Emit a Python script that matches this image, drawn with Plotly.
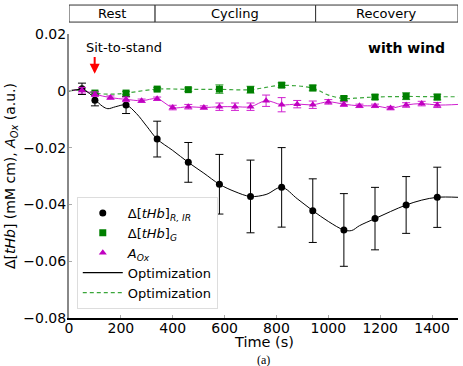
import plotly.graph_objects as go

# black: delta tHb R,IR
t_k = [50, 100, 220, 340, 460, 580, 700, 820, 940, 1060, 1180, 1300, 1420]
y_k = [0.0007, -0.0033, -0.005, -0.017, -0.0252, -0.0329, -0.0372, -0.034, -0.0422, -0.049, -0.045, -0.0402, -0.0375]
e_k = [0.002, 0.002, 0.003, 0.0063, 0.007, 0.0105, 0.0128, 0.014, 0.0112, 0.0128, 0.011, 0.010, 0.0106]

# green: delta tHb G
t_g = [100, 220, 340, 460, 580, 700, 820, 940, 1060, 1180, 1300, 1420]
y_g = [-0.0008, -0.0008, 0.0006, 0.0004, 0.0006, 0.0004, 0.002, 0.001, -0.0027, -0.0022, -0.0019, -0.0022]
e_g = [0.0006, 0.0006, 0.0006, 0.0006, 0.0015, 0.0012, 0.0008, 0.001, 0.0008, 0.0008, 0.0012, 0.001]

# magenta: A_Ox
t_m = [50, 100, 160, 220, 280, 340, 400, 460, 520, 580, 640, 700, 760, 820, 880, 940,
       1000, 1060, 1120, 1180, 1240, 1300, 1360, 1420]
y_m = [0.0002, -0.0012, -0.0024, -0.003, -0.0035, -0.0028, -0.0059, -0.0056, -0.0059, -0.0056, -0.0056, -0.0056,
       -0.0035, -0.0049, -0.0047, -0.0049, -0.0039, -0.0047, -0.0053, -0.0053, -0.0061, -0.005, -0.0045, -0.005]
e_m = [0.001, 0.0008, 0.0006, 0.0008, 0.0006, 0.0006, 0.0008, 0.0008, 0.0006, 0.0013, 0.0013, 0.0013,
       0.002, 0.0025, 0.0013, 0.0013, 0.0008, 0.0008, 0.0006, 0.0006, 0.0006, 0.0008, 0.0008, 0.0009]

# optimization curves
t_ok = [0, 30, 50, 80, 100, 130, 150, 180, 220, 260, 300, 340, 400, 460, 520, 580, 640, 700, 760, 820,
        880, 940, 1000, 1060, 1090, 1120, 1180, 1240, 1300, 1360, 1420, 1500]
y_ok = [0, 0.0004, 0.0004, -0.001, -0.003, -0.0055, -0.0063, -0.0056, -0.005, -0.008, -0.0125, -0.017, -0.021,
        -0.0252, -0.029, -0.0329, -0.0355, -0.0372, -0.0365, -0.034, -0.038, -0.0422, -0.046, -0.049, -0.0492,
        -0.0475, -0.045, -0.0425, -0.0402, -0.0385, -0.0375, -0.0375]
t_og = [0, 50, 100, 160, 220, 340, 460, 580, 700, 820, 940, 1000, 1060, 1120, 1180, 1300, 1420, 1500]
y_og = [0, 0.0002, -0.0008, -0.0012, -0.0008, 0.0006, 0.0005, 0.0005, 0.0004, 0.0019, 0.0009, -0.0015,
        -0.0027, -0.0025, -0.0022, -0.002, -0.0021, -0.0021]
t_om = [0] + t_m + [1500]
y_om = [0] + y_m + [-0.0048]

phases = ["Rest", "Cycling", "Recovery"]
phase_edges = [0, 332, 951, 1500]

fig = go.Figure()

fig.add_trace(go.Scatter(x=t_om, y=y_om, mode="lines", line=dict(color="#d020d0", width=1, shape="spline"),
                         showlegend=False, hoverinfo="skip"))
fig.add_trace(go.Scatter(x=t_og, y=y_og, mode="lines", line=dict(color="#3aa63a", width=1.2, dash="4px,3px", shape="spline"),
                         showlegend=False, hoverinfo="skip"))
fig.add_trace(go.Scatter(x=t_ok, y=y_ok, mode="lines", line=dict(color="black", width=1, shape="spline"),
                         showlegend=False, hoverinfo="skip"))

fig.add_trace(go.Scatter(x=t_k, y=y_k, mode="markers", name="Δ[<i>tHb</i>]<sub><i>R, IR</i></sub>",
                         marker=dict(symbol="circle", size=7, color="black"),
                         error_y=dict(array=e_k, color="black", thickness=1, width=4)))
fig.add_trace(go.Scatter(x=t_g, y=y_g, mode="markers", name="Δ[<i>tHb</i>]<sub><i>G</i></sub>",
                         marker=dict(symbol="square", size=7, color="green"),
                         error_y=dict(array=e_g, color="#3aa63a", thickness=1, width=4)))
fig.add_trace(go.Scatter(x=t_m, y=y_m, mode="markers", name="<i>A</i><sub><i>Ox</i></sub>",
                         marker=dict(symbol="triangle-up", size=7, color="#c000c0"),
                         error_y=dict(array=e_m, color="#d020d0", thickness=1, width=4)))
fig.add_trace(go.Scatter(x=[None], y=[None], mode="lines", name="Optimization",
                         line=dict(color="black", width=1.2)))
fig.add_trace(go.Scatter(x=[None], y=[None], mode="lines", name="Optimization",
                         line=dict(color="#3aa63a", width=1.2, dash="4px,3px")))

# phase band on top
for i, p in enumerate(phases):
    fig.add_shape(type="rect", xref="x", yref="paper", x0=phase_edges[i], x1=phase_edges[i + 1],
                  y0=1.042, y1=1.102, line=dict(color="#333", width=1), fillcolor="white")
    fig.add_annotation(x=(phase_edges[i] + phase_edges[i + 1]) / 2, y=1.072, xref="x", yref="paper",
                       xanchor="center", yanchor="middle",
                       text=p, showarrow=False, font=dict(size=13, color="black"))

fig.add_annotation(x=58, y=0.0152, text="Sit-to-stand", showarrow=False, xanchor="left", yanchor="middle",
                   font=dict(size=13, color="black"))
fig.add_annotation(x=99, y=0.006, ax=99, ay=0.0124, xref="x", yref="y", axref="x", ayref="y",
                   text="", showarrow=True, arrowhead=2, arrowsize=1, arrowwidth=2, arrowcolor="red")
fig.add_annotation(x=1457, y=0.0152, text="<b>with wind</b>", showarrow=False, xanchor="right", yanchor="middle",
                   font=dict(size=14, color="black"))
# x title and caption
fig.add_annotation(x=0.5, y=-0.083, xref="paper", yref="paper", text="Time (s)", showarrow=False,
                   xanchor="center", yanchor="middle", font=dict(size=14.5, color="black"))
fig.add_annotation(x=0.5, y=-0.147, xref="paper", yref="paper", text="(a)", showarrow=False,
                   xanchor="center", yanchor="middle",
                   font=dict(family="Liberation Serif", size=12, color="black"))

fig.update_xaxes(range=[0, 1500], tickvals=[0, 200, 400, 600, 800, 1000, 1200, 1400],
                 showgrid=False, zeroline=False, showline=True, linecolor="black", linewidth=1.5,
                 ticks="inside", ticklen=3, tickcolor="#aaa", ticklabelstandoff=-4,
                 tickfont=dict(size=14))
fig.update_yaxes(range=[-0.08, 0.02], tickvals=[-0.08, -0.06, -0.04, -0.02, 0, 0.02],
                 ticktext=["−0.08", "−0.06", "−0.04", "−0.02", "0", "0.02"],
                 showgrid=False, zeroline=False, showline=True, linecolor="#888", linewidth=2,
                 ticks="inside", ticklen=3, tickcolor="#aaa", ticklabelstandoff=-2,
                 title=dict(text="Δ[<i>tHb</i>] (mM cm), <i>A</i><sub><i>Ox</i></sub> (a.u.)", standoff=4,
                            font=dict(size=14)),
                 tickfont=dict(size=14))

fig.update_layout(
    width=463, height=366,
    margin=dict(l=69, r=5, t=34, b=48),
    plot_bgcolor="white", paper_bgcolor="white",
    font=dict(family="DejaVu Sans", size=13, color="black"),
    legend=dict(x=0.02, y=0.426, xanchor="left", yanchor="top", bgcolor="white",
                bordercolor="#ddd", borderwidth=1, font=dict(size=13), tracegroupgap=0, itemwidth=40),
)

fig.write_html("out.html", config={"displayModeBar": False},
               post_script="document.body.style.margin='0';document.body.style.overflow='hidden';")
